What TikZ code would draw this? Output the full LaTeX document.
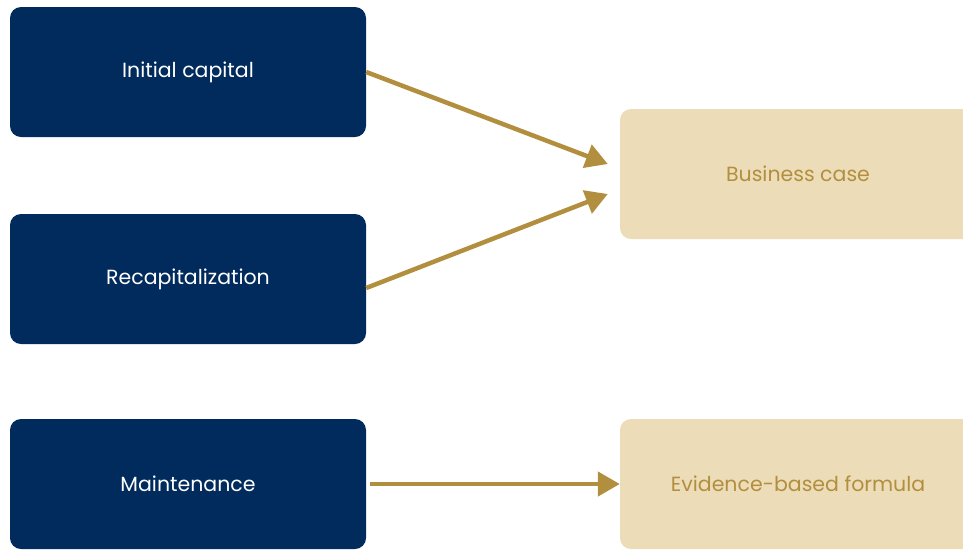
\documentclass[tikz,border=0pt]{standalone}
\usepackage{fontspec}
\setmainfont{Poppins}
\usetikzlibrary{arrows.meta,positioning}
\definecolor{navy}{HTML}{002B5C}
\definecolor{gold}{HTML}{B28F3E}
\definecolor{sand}{HTML}{EDDCB8}

\begin{document}
\begin{tikzpicture}[font=\fontsize{20.5}{24}\selectfont, x=1pt, y=-1pt,
      box/.style={rounded corners=11pt, align=center, minimum width=356pt, minimum height=130pt, inner sep=0pt},
      src/.style={box, fill=navy, text=white},
      dst/.style={box, fill=sand, text=gold},
      ar/.style={-{Triangle[length=22pt, width=24pt]}, draw=gold, line width=4.5pt}]
    \useasboundingbox (0,0) rectangle (963,550);
    \clip (0,0) rectangle (963,550);
    \node[src] (init) at (188,72) {Initial capital};
    \node[src] (recap) at (188,279) {Recapitalization};
    \node[src] (maint) at (188,484) {Maintenance};
    \node[dst] (bcase) at (798,174) {Business case};
    \node[dst] (ebf) at (798,484) {Evidence-based formula};
    \draw[ar] (init.east) -- ([xshift=-12pt, yshift=10pt]bcase.west);
    \draw[ar] ([yshift=-9pt]recap.east) -- ([xshift=-12pt, yshift=-20pt]bcase.west);
    \draw[ar] ([xshift=4pt]maint.east) -- (ebf.west);
  \end{tikzpicture}
\end{document}
